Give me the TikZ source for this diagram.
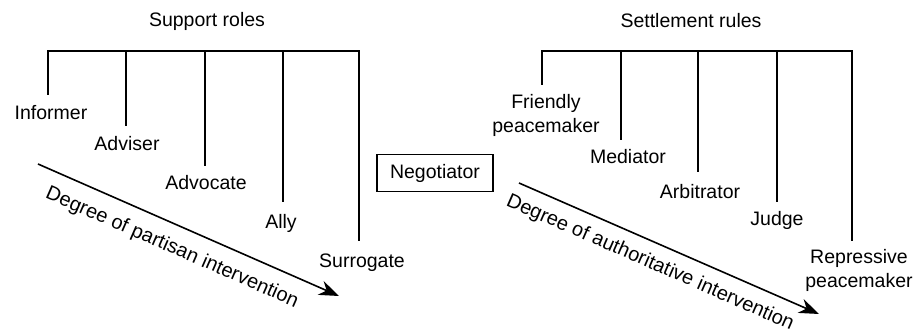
\documentclass[tikz,border=0pt]{standalone}
\usepackage{fontspec}
\setmainfont{Liberation Sans}
\usetikzlibrary{arrows.meta}
\begin{document}
\begin{tikzpicture}[x=1pt,y=-1pt,
  lbl/.style={font=\fontsize{19.5}{24}\selectfont, inner sep=0pt, align=center},
  slant/.style={font=\fontsize{20}{24}\selectfont, inner sep=0pt, rotate=-23.6},
  bar/.style={line width=1.3pt},
  arr/.style={line width=1.6pt, -{Stealth[length=20pt,width=15pt]}},
  boxed/.style={draw, line width=1.2pt, minimum width=116pt, minimum height=37pt, inner sep=0pt, font=\fontsize{19.5}{24}\selectfont}]
\useasboundingbox (0,0) rectangle (919,336);
% ---- Left tree
\node[lbl] (sr) at (207,21) {Support roles};
\coordinate (l1t) at (48,51);
\coordinate (l2t) at (126,51);
\coordinate (l3t) at (205,51);
\coordinate (l4t) at (283,51);
\coordinate (l5t) at (359,51);
\coordinate (l1b) at (48,95);
\coordinate (l2b) at (126,126);
\coordinate (l3b) at (205,166);
\coordinate (l4b) at (283,202);
\coordinate (l5b) at (359,241);
\draw[bar] (l1b) -- (l1t) -- (l5t) -- (l5b);
\draw[bar] (l2t) -- (l2b);
\draw[bar] (l3t) -- (l3b);
\draw[bar] (l4t) -- (l4b);
\node[lbl] (inf) at (51,113) {Informer};
\node[lbl] (adv) at (127,144) {Adviser};
\node[lbl] (advo) at (206,183) {Advocate};
\node[lbl] (ally) at (281,223) {Ally};
\node[lbl] (sur) at (362,263) {Surrogate};
\coordinate (a1s) at (38,164);
\coordinate (a1e) at (339,296);
\draw[arr] (a1s) -- (a1e);
\node[slant] (t1) at (172,248) {Degree of partisan intervention};
% ---- Negotiator
\node[boxed] (neg) at (435,173) {Negotiator};
% ---- Right tree
\node[lbl] (st) at (691,21) {Settlement rules};
\coordinate (r1t) at (542,51);
\coordinate (r2t) at (621,51);
\coordinate (r3t) at (698,51);
\coordinate (r4t) at (777,51);
\coordinate (r5t) at (852,51);
\coordinate (r1b) at (542,85);
\coordinate (r2b) at (621,140);
\coordinate (r3b) at (698,172);
\coordinate (r4b) at (777,202);
\coordinate (r5b) at (852,241);
\draw[bar] (r1b) -- (r1t) -- (r5t) -- (r5b);
\draw[bar] (r2t) -- (r2b);
\draw[bar] (r3t) -- (r3b);
\draw[bar] (r4t) -- (r4b);
\node[lbl] (fp) at (546,115) {Friendly\\peacemaker};
\node[lbl] (med) at (628,157) {Mediator};
\node[lbl] (arb) at (700,192) {Arbitrator};
\node[lbl] (jud) at (777,220) {Judge};
\node[lbl] (rp) at (859,270) {Repressive\\peacemaker};
\coordinate (a2s) at (519,183);
\coordinate (a2e) at (819,314);
\draw[arr] (a2s) -- (a2e);
\node[slant] (t2) at (650,263) {Degree of authoritative intervention};
\end{tikzpicture}
\end{document}
